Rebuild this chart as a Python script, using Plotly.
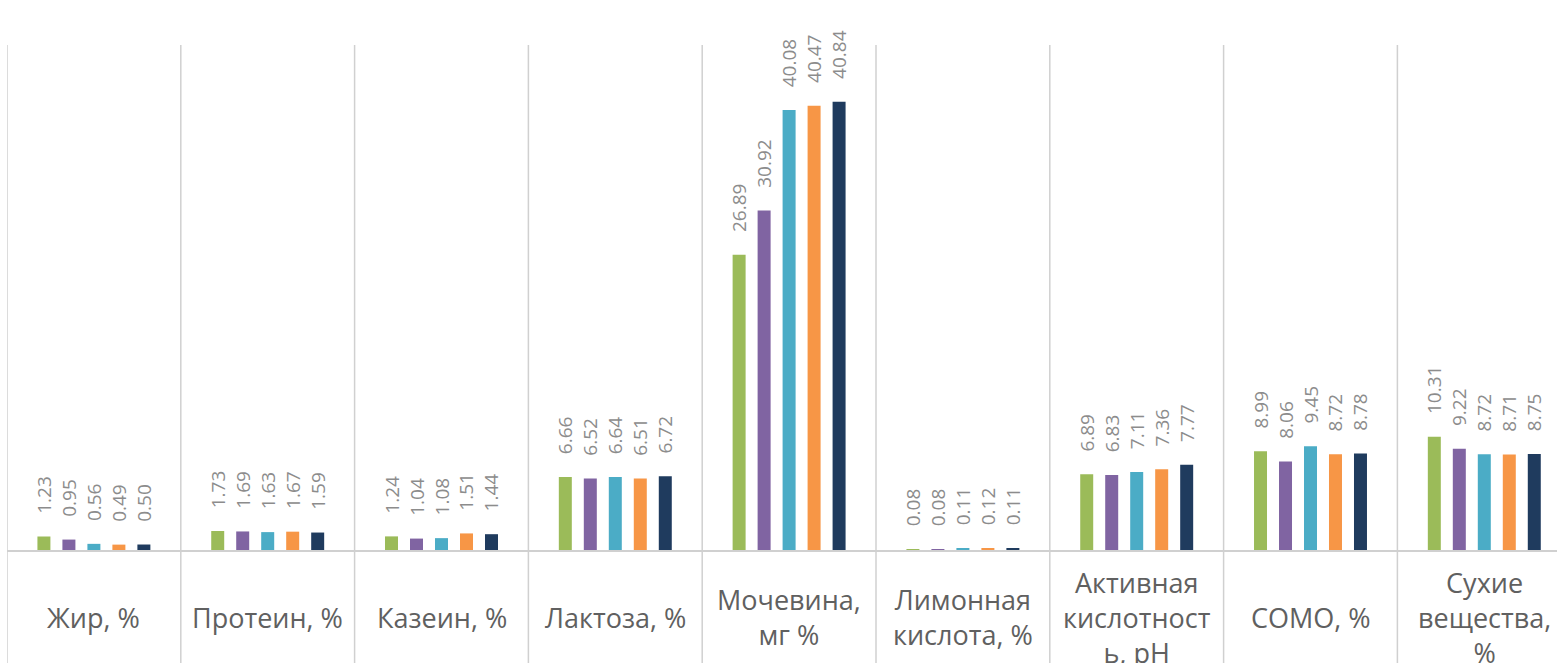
import plotly.graph_objects as go

categories = ["Жир, %", "Протеин, %", "Казеин, %", "Лактоза, %", "Мочевина,<br>мг %",
              "Лимонная<br>кислота, %", "Активная<br>кислотност<br>ь, рН", "СОМО, %",
              "Сухие<br>вещества,<br>%"]
series_names = ["Образец 1", "Образец 2", "Образец 3", "Образец 4", "Образец 5"]
s1 = [1.23, 1.73, 1.24, 6.66, 26.89, 0.08, 6.89, 8.99, 10.31]
s2 = [0.95, 1.69, 1.04, 6.52, 30.92, 0.08, 6.83, 8.06, 9.22]
s3 = [0.56, 1.63, 1.08, 6.64, 40.08, 0.11, 7.11, 9.45, 8.72]
s4 = [0.49, 1.67, 1.51, 6.51, 40.47, 0.12, 7.36, 8.72, 8.71]
s5 = [0.50, 1.59, 1.44, 6.72, 40.84, 0.11, 7.77, 8.78, 8.75]
series_values = [s1, s2, s3, s4, s5]
colors = ["#9BBB59", "#8064A2", "#4BACC6", "#F79646", "#1F3B5E"]

W, H = 1557, 663
ml, mr, mt, mb = 7, 0, 45, 113
plot_h = H - mt - mb

xs = list(range(len(categories)))
fig = go.Figure()
pad = "\u00a0" * 4
for name, vals, col in zip(series_names, series_values, colors):
    fig.add_trace(go.Bar(
        x=xs, y=vals, name=name, marker_color=col, marker_line_width=0,
        text=[pad + f"{v:.2f}" for v in vals], textposition="outside",
        textangle=-90, constraintext="none", cliponaxis=False,
        textfont=dict(family="Open Sans", size=19, color="#8c8c8c"),
    ))

# category separators extending into label area
for i in range(len(categories) + 1):
    fig.add_shape(type="line", xref="x", yref="paper", x0=i - 0.5, x1=i - 0.5,
                  y0=-mb / plot_h, y1=1, line=dict(color="#d0d0d0", width=1.5), layer="below")

# category labels, vertically centred below axis
for i, c in enumerate(categories):
    fig.add_annotation(x=i, y=-67 / plot_h, xref="x", yref="paper", text=c,
                       showarrow=False, yanchor="middle", xanchor="center",
                       font=dict(family="Open Sans", size=27, color="#606060"))

span = (W - ml - mr) / 173.8
fig.update_layout(
    width=W, height=H, barmode="group", bargap=0.281, bargroupgap=0.48,
    plot_bgcolor="white", paper_bgcolor="white", showlegend=False,
    margin=dict(l=ml, r=mr, t=mt, b=mb),
    xaxis=dict(range=[-0.5, -0.5 + span], showticklabels=False, showgrid=False,
               zeroline=False, showline=True, linecolor="#d0d0d0", linewidth=1.5, ticks=""),
    yaxis=dict(range=[0, 46], visible=False, showgrid=False, zeroline=False),
)
fig.write_html("out.html")
